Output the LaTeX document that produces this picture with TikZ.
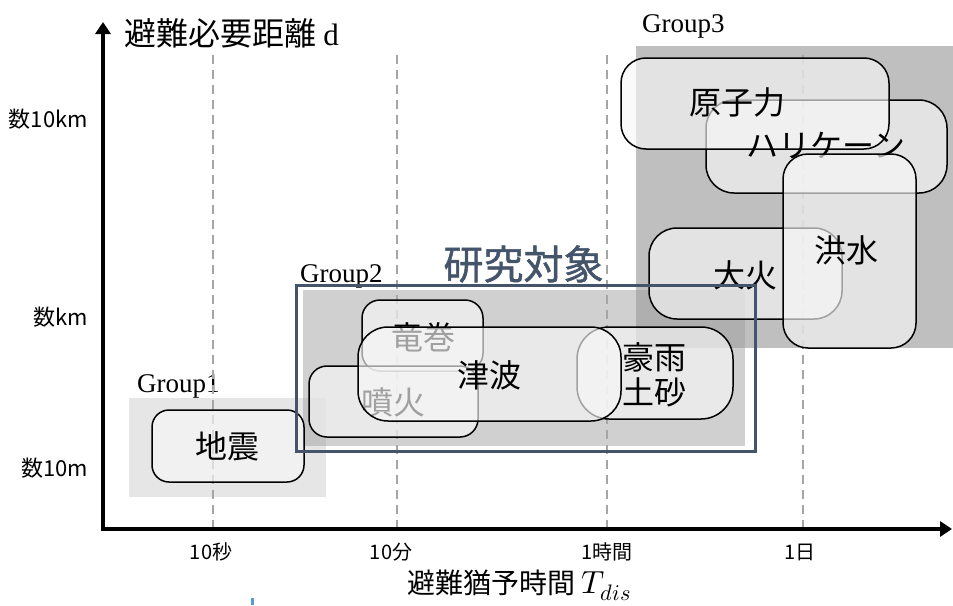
\documentclass[tikz,border=0pt]{standalone}
\usepackage{fontspec}
\usepackage{unicode-math}
\setmathfont{Latin Modern Math}
\newfontfamily\jp{Noto Sans CJK JP}
\newfontfamily\jpb[FakeBold=1.2]{Noto Sans CJK JP}
\newfontfamily\serifl{Liberation Serif}
\usetikzlibrary{arrows.meta}
\definecolor{navy}{HTML}{44546A}
\definecolor{gA}{HTML}{E6E6E6}
\definecolor{gC}{HTML}{BFBFBF}
\definecolor{gB}{HTML}{A1A1A1}
\definecolor{boxfill}{HTML}{F7F7F7}
\definecolor{gridc}{HTML}{A6A6A6}
\definecolor{cursorc}{HTML}{5B9BD5}
\begin{document}
\begin{tikzpicture}[x=1pt,y=-1pt,
  hz/.style={draw=black, line width=1.5pt, fill=boxfill, fill opacity=0.65, text opacity=1, inner sep=0pt},
  lbl/.style={font=\jp\fontsize{32}{35}\selectfont, inner sep=0pt, align=center},
  tick/.style={font=\jp\fontsize{20}{22}\selectfont, inner sep=0pt},
  ylab/.style={font=\jp\fontsize{22}{24}\selectfont, inner sep=0pt, anchor=east},
  grplab/.style={font=\serifl\fontsize{27}{29}\selectfont, inner sep=0pt, anchor=base west},
  gridline/.style={draw=gridc, line width=2pt, dash pattern=on 9pt off 6pt},
  axis/.style={draw=black, line width=3.5pt, -{Triangle[length=12pt,width=15pt]}}
]
\useasboundingbox (0,0) rectangle (953,605);
% group areas
\fill[gC] (636,46) rectangle (953,348);
\fill[gA] (129,398) rectangle (326,497);
\fill[gB, fill opacity=0.5] (303,290) rectangle (745,446);
\node[grplab] (g1) at (137,392) {Group1};
\node[grplab] (g2) at (300,282) {Group2};
\node[grplab] (g3) at (642,32) {Group3};
% grid lines
\foreach \gx in {213,397,607,803} {
  \draw[gridline] (\gx,55) -- (\gx,527);
}
% axes
\coordinate (O) at (103,529);
\coordinate (xend) at (952,529);
\coordinate (yend) at (103,22);
\draw[axis] ([xshift=-1.75pt]O) -- (xend);
\draw[axis] ([yshift=-1.75pt]O) -- (yend);
% Group1
\node[hz, minimum width=152pt, minimum height=72pt, rounded corners=17pt] (jishin) at (228,446) {};
\node[lbl] (tjishin) at (227,446) {地震};
% Group2
\node[hz, minimum width=121pt, minimum height=71pt, rounded corners=18pt] (tatsumaki) at (422.5,335.5) {};
\node[lbl] (ttatsumaki) at (423,337) {竜巻};
\node[hz, minimum width=169pt, minimum height=71pt, rounded corners=18pt] (funka) at (393.5,401.5) {};
\node[lbl] (tfunka) at (393,402) {噴火};
\node[hz, minimum width=156pt, minimum height=92pt, rounded corners=32pt] (gou) at (655,373) {};
\node[lbl] (tgou) at (654,375) {豪雨\\土砂};
\node[hz, minimum width=263pt, minimum height=94pt, rounded corners=30pt] (tsunami) at (489.5,374) {};
\node[lbl] (ttsunami) at (489,375) {津波};
% Group3
\node[hz, minimum width=193pt, minimum height=91pt, rounded corners=28pt] (taika) at (745.5,273.5) {};
\node[lbl] (ttaika) at (745,275) {大火};
\node[hz, minimum width=241pt, minimum height=93pt, rounded corners=28pt] (hurricane) at (826.5,146.5) {};
\node[hz, minimum width=268pt, minimum height=91pt, rounded corners=25pt] (genshi) at (755,103.5) {};
\node[lbl] (tgenshi) at (737,102) {原子力};
\node[lbl] (thurricane) at (826,145) {ハリケーン};
\node[hz, minimum width=133pt, minimum height=194pt, rounded corners=25pt] (kouzui) at (849.5,251) {};
\node[lbl] (tkouzui) at (846,250) {洪水};
% study target
\draw[navy, line width=3pt] (296,285) rectangle (755,451);
\node[font=\jpb\fontsize{40}{42}\selectfont, text=navy, inner sep=0pt] (target) at (523.5,264) {研究対象};
% tick labels
\node[tick] (t1) at (211,552) {10秒};
\node[tick] (t2) at (391,552) {10分};
\node[tick] (t3) at (607,552) {1時間};
\node[tick] (t4) at (800,552) {1日};
\node[ylab] (y1) at (88,119) {数10km};
\node[ylab] (y2) at (88,317) {数km};
\node[ylab] (y3) at (88,468) {数10m};
% axis titles
\node[anchor=west, inner sep=0pt] (ytitle) at (124,33) {\jp\fontsize{32}{34}\selectfont 避難必要距離 {\serifl\fontsize{31}{33}\selectfont d}};
\node[anchor=base west, inner sep=0pt] (xtitle) at (407,593) {\jp\fontsize{28}{30}\selectfont 避難猶予時間 {\fontsize{32}{34}\selectfont$T_{dis}$}};
% cursor mark
\fill[cursorc] (251,598) rectangle (254,605);
\end{tikzpicture}
\end{document}
